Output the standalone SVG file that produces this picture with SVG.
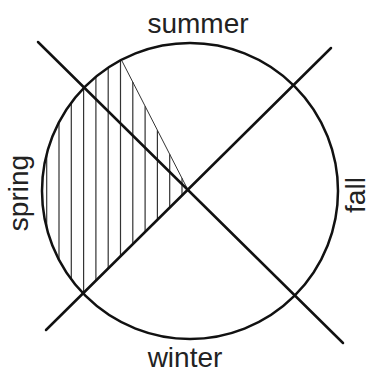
<svg xmlns="http://www.w3.org/2000/svg" width="372" height="372" viewBox="0 0 372 372">
<style>
.lbl{font-family:"Liberation Sans",Arial,sans-serif;font-size:28px;fill:#222;text-anchor:middle}
.main{fill:none;stroke:#111;stroke-width:2.5;stroke-linecap:round}
.hatch{stroke:#333;stroke-width:1.2;fill:none}
</style>
<rect width="372" height="372" fill="#fff"/>
<g id="hatching">
<path class="hatch" d="M46.7,154V228 M59,122.1V259.9 M71.3,102.6V279.4 M83.6,88.1V293.3 M95.9,76.8V281.1 M108.2,67.7V268.9 M120.5,60.3V256.8 M132.8,82.1V244.6 M145.1,106.2V232.4 M157.4,130.2V220.3 M169.7,154.3V208.1 M182,178.3V195.9"/>
<line x1="122" y1="61" x2="188" y2="190" stroke="#333" stroke-width="1"/>
</g>
<g id="circle">
<circle class="main" cx="190" cy="191" r="148"/>
</g>
<g id="connectors">
<line class="main" x1="38" y1="42" x2="343" y2="343"/>
<line class="main" x1="331" y1="48" x2="46" y2="330"/>
</g>
<g id="summer"><text class="lbl" x="198" y="33">summer</text></g>
<g id="winter"><text class="lbl" x="185" y="367">winter</text></g>
<g id="spring"><text class="lbl" x="28" y="193" transform="rotate(-90 28 193)">spring</text></g>
<g id="fall"><text class="lbl" x="365" y="195" transform="rotate(-90 365 195)">fall</text></g>
</svg>
